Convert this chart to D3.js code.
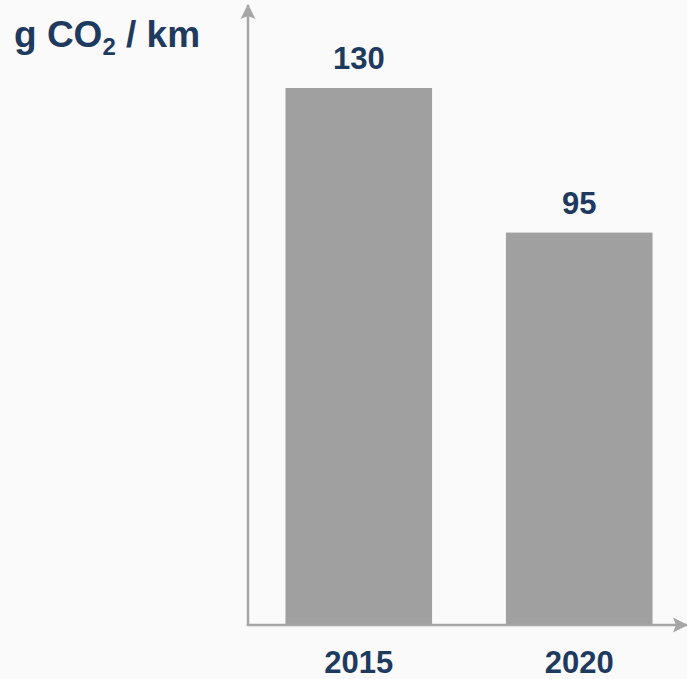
<!DOCTYPE html>
<html>
<head>
<meta charset="utf-8">
<script src="https://cdn.jsdelivr.net/npm/d3@7"></script>
<style>
  html, body { margin: 0; padding: 0; background: #fafafa; }
  svg { display: block; }
</style>
</head>
<body>
<svg id="chart" width="687" height="679"></svg>
<script>
const categories = ["2015", "2020"];
const values = [130, 95];
const unitMain = "g CO";
const unitSub = "2";
const unitRest = " / km";

const W = 687, H = 679;
const axisX = 248, baseY = 625, topY = 88;
const textColor = "#1e3a5f";
const axisColor = "#a6a6a6";
const barColor = "#a0a0a0";
const font = "'Liberation Sans', Arial, Helvetica, sans-serif";

const svg = d3.select("#chart");

const x = d3.scaleBand()
  .domain(categories)
  .range([axisX, 690])
  .paddingInner(0.335)
  .paddingOuter(0.17);

const y = d3.scaleLinear()
  .domain([0, d3.max(values)])
  .range([baseY, topY]);

// arrow marker
const defs = svg.append("defs");
defs.append("marker")
  .attr("id", "arrow")
  .attr("markerUnits", "userSpaceOnUse")
  .attr("viewBox", "0 -8 16 16")
  .attr("refX", 14)
  .attr("refY", 0)
  .attr("markerWidth", 16)
  .attr("markerHeight", 16)
  .attr("orient", "auto")
  .append("path")
  .attr("d", "M0,-7.5 L15,0 L0,7.5 L3,0 Z")
  .attr("fill", axisColor);

// bars
const data = categories.map((c, i) => ({ c, v: values[i] }));
svg.append("g").selectAll("rect")
  .data(data)
  .join("rect")
  .attr("x", d => x(d.c))
  .attr("y", d => y(d.v))
  .attr("width", x.bandwidth())
  .attr("height", d => y(0) - y(d.v))
  .attr("fill", barColor);

// axes
svg.append("line")
  .attr("x1", axisX).attr("y1", baseY)
  .attr("x2", axisX).attr("y2", 5)
  .attr("stroke", axisColor).attr("stroke-width", 2.5)
  .attr("marker-end", "url(#arrow)");
svg.append("line")
  .attr("x1", axisX - 1.25).attr("y1", baseY)
  .attr("x2", 687).attr("y2", baseY)
  .attr("stroke", axisColor).attr("stroke-width", 2.5)
  .attr("marker-end", "url(#arrow)");

// value labels
svg.append("g").selectAll("text")
  .data(data)
  .join("text")
  .attr("x", d => x(d.c) + x.bandwidth() / 2)
  .attr("y", d => y(d.v) - 19)
  .attr("text-anchor", "middle")
  .attr("font-family", font)
  .attr("font-weight", "bold")
  .attr("font-size", 31)
  .attr("fill", textColor)
  .text(d => d.v);

// category labels
svg.append("g").selectAll("text")
  .data(categories)
  .join("text")
  .attr("x", d => x(d) + x.bandwidth() / 2)
  .attr("y", 673)
  .attr("text-anchor", "middle")
  .attr("font-family", font)
  .attr("font-weight", "bold")
  .attr("font-size", 31)
  .attr("fill", textColor)
  .text(d => d);

// unit title
const t = svg.append("text")
  .attr("x", 14)
  .attr("y", 47)
  .attr("font-family", font)
  .attr("font-weight", "bold")
  .attr("font-size", 37)
  .attr("fill", textColor);
t.append("tspan").text(unitMain);
t.append("tspan").attr("font-size", 24).attr("dy", 8).text(unitSub);
t.append("tspan").attr("dy", -8).text(unitRest);
</script>
</body>
</html>
